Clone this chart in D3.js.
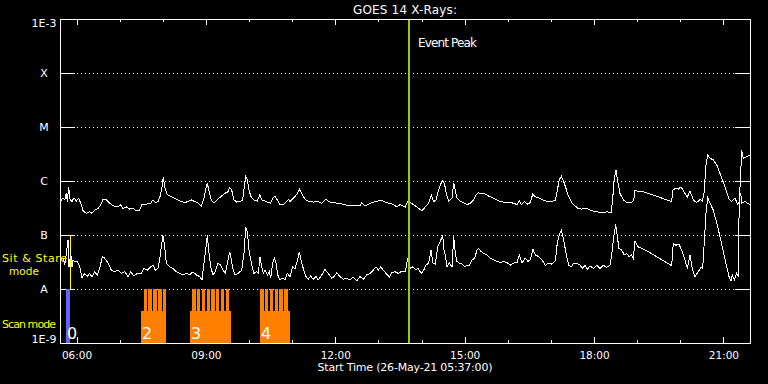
<!DOCTYPE html>
<html lang="en">
    <head>
        <meta charset="utf-8">
        <title>GOES 14 X-Rays</title>
        <script src="https://d3js.org/d3.v7.min.js"></script>
        <style>
            body { margin: 0; background: #000; }
            svg { display: block; }
            text { font-family: "DejaVu Sans", sans-serif; }
        </style>
    </head>
    <body>
        <script type="text/javascript">
            // long channel (1-8 A), [hour UT, log10 flux W/m^2]
            var longChannel = [
                [5.633,-6.38],[5.686,-6.31],[5.726,-6.35],[5.763,-6.22],[5.786,-6.38],[5.818,-6.12],[5.849,-6.34],
                [5.895,-6.38],[5.941,-6.31],[5.995,-6.37],[6.050,-6.32],[6.097,-6.41],[6.150,-6.55],[6.227,-6.60],
                [6.305,-6.57],[6.342,-6.60],[6.421,-6.54],[6.498,-6.51],[6.560,-6.44],[6.614,-6.34],[6.690,-6.35],
                [6.769,-6.41],[6.846,-6.46],[6.961,-6.48],[7.024,-6.44],[7.077,-6.51],[7.154,-6.48],[7.233,-6.52],
                [7.310,-6.51],[7.386,-6.55],[7.465,-6.54],[7.518,-6.43],[7.618,-6.43],[7.720,-6.41],[7.773,-6.35],
                [7.827,-6.40],[7.889,-6.38],[7.935,-6.29],[7.982,-6.11],[8.012,-5.93],[8.044,-6.11],[8.105,-6.25],
                [8.198,-6.29],[8.276,-6.32],[8.392,-6.37],[8.508,-6.40],[8.585,-6.38],[8.661,-6.35],[8.740,-6.38],
                [8.817,-6.41],[8.893,-6.46],[8.956,-6.32],[9.009,-6.11],[9.032,-6.03],[9.065,-6.17],[9.125,-6.35],
                [9.188,-6.41],[9.264,-6.35],[9.343,-6.29],[9.436,-6.23],[9.512,-6.20],[9.552,-6.12],[9.598,-6.17],
                [9.651,-6.35],[9.714,-6.39],[9.790,-6.38],[9.853,-6.35],[9.890,-6.11],[9.923,-5.91],[9.960,-5.97],
                [9.999,-6.17],[10.046,-6.29],[10.115,-6.35],[10.192,-6.37],[10.254,-6.25],[10.294,-6.35],[10.370,-6.37],
                [10.447,-6.40],[10.502,-6.41],[10.549,-6.32],[10.602,-6.28],[10.656,-6.35],[10.718,-6.44],[10.795,-6.44],
                [10.874,-6.38],[10.911,-6.34],[10.950,-6.38],[11.027,-6.32],[11.105,-6.25],[11.166,-6.15],[11.221,-6.23],
                [11.298,-6.34],[11.374,-6.37],[11.490,-6.39],[11.606,-6.38],[11.685,-6.41],[11.778,-6.34],[11.877,-6.39],
                [12.033,-6.41],[12.186,-6.43],[12.302,-6.46],[12.457,-6.46],[12.573,-6.46],[12.612,-6.41],[12.689,-6.46],
                [12.766,-6.43],[12.921,-6.38],[13.076,-6.36],[13.192,-6.40],[13.345,-6.43],[13.424,-6.48],[13.501,-6.44],
                [13.624,-6.48],[13.686,-6.37],[13.762,-6.41],[13.855,-6.46],[13.934,-6.51],[14.011,-6.55],[14.087,-6.48],
                [14.166,-6.41],[14.227,-6.26],[14.282,-6.38],[14.336,-6.35],[14.382,-6.20],[14.435,-6.07],[14.491,-5.99],
                [14.537,-6.07],[14.575,-6.23],[14.630,-6.38],[14.707,-6.32],[14.746,-6.04],[14.783,-6.17],[14.823,-6.32],
                [14.899,-6.38],[14.978,-6.40],[15.054,-6.44],[15.131,-6.41],[15.210,-6.35],[15.263,-6.26],[15.310,-6.22],
                [15.442,-6.23],[15.558,-6.28],[15.673,-6.32],[15.789,-6.37],[15.905,-6.39],[16.021,-6.40],[16.137,-6.41],
                [16.214,-6.44],[16.267,-6.36],[16.314,-6.44],[16.392,-6.38],[16.446,-6.43],[16.522,-6.40],[16.578,-6.24],
                [16.638,-6.29],[16.717,-6.31],[16.794,-6.34],[16.870,-6.37],[16.986,-6.38],[17.102,-6.36],[17.141,-6.20],
                [17.195,-5.98],[17.241,-5.91],[17.297,-6.01],[17.350,-6.14],[17.412,-6.29],[17.489,-6.41],[17.558,-6.46],
                [17.635,-6.51],[17.714,-6.52],[17.830,-6.51],[17.946,-6.55],[18.062,-6.57],[18.178,-6.59],[18.294,-6.57],
                [18.393,-6.59],[18.424,-6.41],[18.470,-5.95],[18.510,-5.80],[18.549,-6.01],[18.602,-6.23],[18.679,-6.35],
                [18.757,-6.40],[18.873,-6.40],[18.920,-6.35],[18.950,-6.17],[19.027,-6.20],[19.143,-6.20],[19.221,-6.22],
                [19.801,-6.38],[19.824,-6.17],[19.878,-6.14],[19.954,-6.15],[20.017,-6.11],[20.110,-6.23],[20.163,-6.30],
                [20.225,-6.18],[20.302,-6.35],[20.381,-6.40],[20.457,-6.34],[20.510,-6.37],[20.550,-6.23],[20.596,-5.70],
                [20.636,-5.52],[20.689,-5.58],[20.766,-5.61],[20.845,-5.70],[20.921,-5.86],[21.037,-6.11],[21.130,-6.34],
                [21.192,-6.38],[21.269,-6.32],[21.332,-6.43],[21.369,-6.38],[21.401,-5.86],[21.425,-5.43],[21.462,-5.58],
                [21.518,-5.56],[21.617,-5.52]
            ];

            // short channel (0.5-4 A), [hour UT, log10 flux W/m^2]
            var shortChannel = [
                [5.633,-7.46],[5.686,-7.43],[5.726,-7.56],[5.763,-7.34],[5.802,-7.09],[5.825,-7.59],[5.865,-7.34],
                [5.895,-7.59],[5.918,-7.46],[5.958,-7.49],[6.018,-7.49],[6.073,-7.59],[6.127,-7.80],[6.189,-7.71],
                [6.250,-7.77],[6.305,-7.71],[6.359,-7.78],[6.421,-7.68],[6.482,-7.74],[6.537,-7.62],[6.598,-7.40],
                [6.653,-7.43],[6.730,-7.52],[6.806,-7.65],[6.885,-7.68],[6.961,-7.65],[7.038,-7.71],[7.117,-7.68],
                [7.193,-7.77],[7.256,-7.68],[7.333,-7.76],[7.409,-7.71],[7.488,-7.72],[7.564,-7.62],[7.641,-7.65],
                [7.720,-7.59],[7.773,-7.56],[7.827,-7.65],[7.889,-7.62],[7.928,-7.46],[7.966,-7.22],[8.005,-7.01],
                [8.044,-7.22],[8.082,-7.52],[8.160,-7.59],[8.237,-7.62],[8.313,-7.68],[8.392,-7.71],[8.469,-7.74],
                [8.545,-7.71],[8.624,-7.74],[8.701,-7.68],[8.777,-7.74],[8.856,-7.77],[8.909,-7.83],[8.956,-7.52],
                [8.995,-7.28],[9.032,-7.00],[9.065,-7.28],[9.111,-7.59],[9.164,-7.74],[9.218,-7.68],[9.280,-7.52],
                [9.343,-7.56],[9.396,-7.65],[9.450,-7.71],[9.512,-7.46],[9.552,-7.31],[9.589,-7.46],[9.621,-7.62],
                [9.675,-7.74],[9.751,-7.71],[9.830,-7.65],[9.883,-7.34],[9.923,-6.86],[9.960,-6.94],[9.999,-7.28],
                [10.062,-7.56],[10.115,-7.71],[10.178,-7.68],[10.215,-7.71],[10.254,-7.41],[10.294,-7.59],[10.331,-7.71],
                [10.370,-7.65],[10.424,-7.74],[10.470,-7.68],[10.502,-7.80],[10.549,-7.52],[10.586,-7.43],[10.626,-7.52],
                [10.665,-7.74],[10.718,-7.83],[10.781,-7.80],[10.834,-7.83],[10.887,-7.71],[10.950,-7.77],[11.013,-7.59],
                [11.066,-7.62],[11.105,-7.52],[11.166,-7.32],[11.205,-7.46],[11.258,-7.62],[11.321,-7.77],[11.374,-7.82],
                [11.430,-7.76],[11.490,-7.82],[11.553,-7.77],[11.606,-7.83],[11.685,-7.74],[11.761,-7.64],[11.838,-7.71],
                [11.917,-7.80],[11.970,-7.77],[12.033,-7.70],[12.110,-7.77],[12.186,-7.82],[12.265,-7.80],[12.341,-7.83],
                [12.418,-7.78],[12.497,-7.85],[12.573,-7.77],[12.650,-7.82],[12.728,-7.74],[12.805,-7.71],[12.882,-7.65],
                [12.944,-7.59],[12.998,-7.65],[13.053,-7.59],[13.114,-7.65],[13.176,-7.71],[13.253,-7.78],[13.308,-7.70],
                [13.385,-7.68],[13.461,-7.71],[13.540,-7.67],[13.624,-7.68],[13.680,-7.43],[13.740,-7.62],[13.795,-7.59],
                [13.855,-7.64],[13.918,-7.62],[13.995,-7.71],[14.050,-7.65],[14.104,-7.56],[14.166,-7.52],[14.220,-7.28],
                [14.266,-7.52],[14.319,-7.54],[14.375,-7.22],[14.435,-7.12],[14.491,-7.00],[14.521,-7.28],[14.551,-7.37],
                [14.591,-7.59],[14.644,-7.52],[14.707,-7.59],[14.746,-7.02],[14.783,-7.34],[14.823,-7.49],[14.876,-7.52],
                [14.938,-7.54],[15.001,-7.59],[15.054,-7.56],[15.108,-7.57],[15.170,-7.46],[15.233,-7.43],[15.286,-7.28],
                [15.326,-7.25],[15.386,-7.31],[15.442,-7.34],[15.518,-7.37],[15.595,-7.43],[15.673,-7.46],[15.750,-7.49],
                [15.827,-7.51],[15.905,-7.49],[15.982,-7.51],[16.058,-7.56],[16.137,-7.52],[16.214,-7.51],[16.267,-7.37],
                [16.330,-7.52],[16.406,-7.43],[16.469,-7.49],[16.522,-7.46],[16.585,-7.26],[16.638,-7.37],[16.717,-7.40],
                [16.794,-7.46],[16.870,-7.56],[16.949,-7.52],[17.025,-7.54],[17.102,-7.48],[17.148,-7.15],[17.195,-7.00],
                [17.241,-6.91],[17.297,-7.09],[17.350,-7.34],[17.412,-7.56],[17.473,-7.59],[17.528,-7.52],[17.605,-7.52],
                [17.675,-7.56],[17.728,-7.62],[17.790,-7.56],[17.853,-7.64],[17.906,-7.57],[17.983,-7.62],[18.062,-7.56],
                [18.139,-7.62],[18.215,-7.56],[18.294,-7.60],[18.370,-7.56],[18.410,-7.37],[18.447,-7.09],[18.502,-6.80],
                [18.540,-7.03],[18.579,-7.25],[18.642,-7.28],[18.702,-7.37],[18.757,-7.34],[18.811,-7.40],[18.873,-7.37],
                [18.911,-7.43],[18.950,-7.12],[19.027,-7.22],[19.106,-7.25],[19.221,-7.29],[19.801,-7.57],[19.838,-7.15],
                [19.894,-7.19],[19.970,-7.17],[20.033,-7.28],[20.110,-7.46],[20.163,-7.62],[20.225,-7.37],[20.279,-7.62],
                [20.341,-7.77],[20.418,-7.68],[20.481,-7.59],[20.520,-7.62],[20.550,-7.22],[20.596,-6.60],[20.636,-6.31],
                [20.689,-6.41],[20.766,-6.54],[20.845,-6.78],[20.921,-7.03],[20.998,-7.31],[21.076,-7.59],[21.130,-7.77],
                [21.176,-7.85],[21.207,-7.74],[21.253,-7.83],[21.308,-7.71],[21.346,-7.77],[21.369,-6.23],[21.401,-6.23],
                [21.425,-6.41],[21.501,-6.38],[21.617,-6.44]
            ];

            var fluxLevels = [1e-9, 1e-8, 1e-7, 1e-6, 1e-5, 1e-4, 1e-3];
            var fluxLabels = ["1E-9", "A", "B", "C", "M", "X", "1E-3"];

            // instrument modes (hours UT)
            var stareBar = [5.756, 5.840];
            var stareLabel = "0";
            var scanBlocks = [[7.495, 8.068], [8.631, 9.582], [10.254, 10.950]];
            var scanLabels = ["2", "3", "4"];
            var scanSpikes = [
                [7.565, 7.627], [7.657, 7.743], [7.773, 7.859], [7.882, 7.989], [8.012, 8.068],
                [8.678, 8.770], [8.793, 8.863], [8.909, 8.986], [9.025, 9.095], [9.125, 9.211],
                [9.234, 9.311], [9.357, 9.420], [9.466, 9.536],
                [10.254, 10.347], [10.370, 10.440], [10.486, 10.556], [10.595, 10.672], [10.702, 10.781], [10.811, 10.904]
            ];
            var eventPeak = 13.709;
            var startHour = 5 + 37 / 60;
            var endHour = 21 + 37 / 60;

            var width = 768, height = 384;
            var plotLeft = 60, plotRight = 750, plotTop = 19, plotBottom = 343;

            function toDate(h) {
                return new Date(Date.UTC(2021, 4, 26) + h * 3600000);
            }

            var svg = d3.select("body")
                .append("svg")
                .attr("width", width)
                .attr("height", height)
                .style("background", "#000");

            var x = d3.scaleUtc().domain([toDate(startHour), toDate(endHour)]).range([plotLeft, plotRight]);
            var y = d3.scaleLog().domain([1e-9, 1e-3]).range([plotBottom, plotTop]);
            var modeY = d3.scaleLinear().domain([0, 2]).range([plotBottom, y(1e-7)]);

            // dotted level lines + inner ticks
            var inner = fluxLevels.slice(1, -1);
            svg.selectAll("line.grid")
                .data(inner)
                .enter()
                .append("line")
                .attr("class", "grid")
                .attr("x1", plotLeft + 17)
                .attr("x2", plotRight - 15)
                .attr("y1", function (d) { return Math.round(y(d)) + 0.5; })
                .attr("y2", function (d) { return Math.round(y(d)) + 0.5; })
                .attr("stroke", "#fff")
                .attr("stroke-dasharray", "1,3")
                .attr("shape-rendering", "crispEdges");

            [[plotLeft, plotLeft + 15], [plotRight - 15, plotRight]].forEach(function (seg) {
                svg.selectAll(null)
                    .data(inner)
                    .enter()
                    .append("line")
                    .attr("x1", seg[0])
                    .attr("x2", seg[1])
                    .attr("y1", function (d) { return Math.round(y(d)) + 0.5; })
                    .attr("y2", function (d) { return Math.round(y(d)) + 0.5; })
                    .attr("stroke", "#fff")
                    .attr("shape-rendering", "crispEdges");
            });

            // time axes
            function timeAxis(g, axis) {
                g.call(axis);
                g.select(".domain").remove();
                g.selectAll("line").attr("stroke", "#fff").attr("shape-rendering", "crispEdges");
                g.selectAll("text").attr("fill", "#fff").attr("font-family", "DejaVu Sans").attr("font-size", 10.5);
            }

            svg.append("g").attr("transform", "translate(0," + plotBottom + ")")
                .call(timeAxis, d3.axisBottom(x).ticks(d3.utcHour.every(1)).tickSize(-3).tickFormat(""));
            svg.append("g").attr("transform", "translate(0," + plotBottom + ")")
                .call(timeAxis, d3.axisBottom(x).ticks(d3.utcHour.every(3)).tickSize(-6).tickPadding(9)
                    .tickFormat(d3.utcFormat("%H:%M")));
            svg.append("g").attr("transform", "translate(0," + plotTop + ")")
                .call(timeAxis, d3.axisTop(x).ticks(d3.utcHour.every(1)).tickSize(-3).tickFormat(""));
            svg.append("g").attr("transform", "translate(0," + plotTop + ")")
                .call(timeAxis, d3.axisTop(x).ticks(d3.utcHour.every(3)).tickSize(-6).tickFormat(""));

            // instrument mode bars
            svg.append("rect")
                .attr("x", x(toDate(stareBar[0])))
                .attr("width", x(toDate(stareBar[1])) - x(toDate(stareBar[0])))
                .attr("y", modeY(1))
                .attr("height", modeY(0) - modeY(1))
                .attr("fill", "#6464ff")
                .attr("shape-rendering", "crispEdges");

            svg.append("line")
                .attr("x1", Math.round(x(toDate(stareBar[1]))) + 0.5)
                .attr("x2", Math.round(x(toDate(stareBar[1]))) + 0.5)
                .attr("y1", modeY(2))
                .attr("y2", modeY(1))
                .attr("stroke", "#ffff00")
                .attr("shape-rendering", "crispEdges");

            svg.selectAll("rect.block")
                .data(scanBlocks)
                .enter()
                .append("rect")
                .attr("class", "block")
                .attr("x", function (d) { return x(toDate(d[0])); })
                .attr("width", function (d) { return x(toDate(d[1])) - x(toDate(d[0])); })
                .attr("y", modeY(0.6))
                .attr("height", modeY(0) - modeY(0.6))
                .attr("fill", "#ff8000")
                .attr("shape-rendering", "crispEdges");

            svg.selectAll("rect.spike")
                .data(scanSpikes)
                .enter()
                .append("rect")
                .attr("class", "spike")
                .attr("x", function (d) { return x(toDate(d[0])); })
                .attr("width", function (d) { return x(toDate(d[1])) - x(toDate(d[0])); })
                .attr("y", modeY(1))
                .attr("height", modeY(0) - modeY(1))
                .attr("fill", "#ff8000")
                .attr("shape-rendering", "crispEdges");

            // flux curves
            var line = d3.line()
                .x(function (d) { return x(toDate(d[0])); })
                .y(function (d) { return y(Math.pow(10, d[1])); });

            [longChannel, shortChannel].forEach(function (series) {
                svg.append("path")
                    .datum(series)
                    .attr("d", line)
                    .attr("fill", "none")
                    .attr("stroke", "#fff")
                    .attr("stroke-width", 1)
                    .attr("shape-rendering", "crispEdges");
            });

            // event peak
            svg.append("line")
                .attr("x1", x(toDate(eventPeak)))
                .attr("x2", x(toDate(eventPeak)))
                .attr("y1", plotTop)
                .attr("y2", plotBottom)
                .attr("stroke", "#99cc00")
                .attr("stroke-width", 2)
                .attr("shape-rendering", "crispEdges");

            svg.append("text")
                .attr("x", x(toDate(eventPeak)) + 9)
                .attr("y", 47)
                .attr("font-size", 12)
                .attr("fill", "#fff")
                .attr("textLength", 59)
                .text("Event Peak");

            // frame
            svg.append("rect")
                .attr("x", plotLeft + 0.5)
                .attr("y", plotTop + 0.5)
                .attr("width", plotRight - plotLeft)
                .attr("height", plotBottom - plotTop)
                .attr("fill", "none")
                .attr("stroke", "#fff")
                .attr("shape-rendering", "crispEdges");

            // flux level labels
            svg.selectAll("text.level")
                .data(fluxLevels)
                .enter()
                .append("text")
                .attr("class", "level")
                .attr("x", 44)
                .attr("y", function (d, i) {
                    if (i === 0) return y(d);
                    if (i === fluxLevels.length - 1) return y(d) + 8;
                    return y(d) + 4;
                })
                .attr("text-anchor", "middle")
                .attr("font-size", 11)
                .attr("fill", "#fff")
                .text(function (d, i) { return fluxLabels[i]; });

            // scan labels
            svg.selectAll("text.scan")
                .data(scanBlocks)
                .enter()
                .append("text")
                .attr("class", "scan")
                .attr("x", function (d) { return x(toDate(d[0])) + 1; })
                .attr("y", plotBottom - 4)
                .attr("font-size", 16)
                .attr("fill", "#fff")
                .text(function (d, i) { return scanLabels[i]; });

            svg.append("text")
                .attr("x", x(toDate(stareBar[0])) + 1)
                .attr("y", plotBottom - 4)
                .attr("font-size", 16)
                .attr("fill", "#fff")
                .text(stareLabel);

            // mode labels
            svg.append("text").attr("x", 2).attr("y", 262).attr("font-size", 11)
                .attr("fill", "#ffff00").attr("textLength", 65).text("Sit & Stare");
            svg.append("text").attr("x", 24).attr("y", 275).attr("font-size", 10.5).attr("text-anchor", "middle")
                .attr("fill", "#ffff00").text("mode");
            svg.append("text").attr("x", 2).attr("y", 328).attr("font-size", 11)
                .attr("fill", "#ffff00").attr("textLength", 54).text("Scan mode");

            // titles
            svg.append("text")
                .attr("x", (plotLeft + plotRight) / 2)
                .attr("y", 14)
                .attr("text-anchor", "middle")
                .attr("font-size", 12)
                .attr("fill", "#fff")
                .attr("textLength", 104)
                .text("GOES 14 X-Rays:");

            svg.append("text")
                .attr("x", (plotLeft + plotRight) / 2)
                .attr("y", 371)
                .attr("text-anchor", "middle")
                .attr("font-size", 11)
                .attr("fill", "#fff")
                .attr("textLength", 175)
                .text("Start Time (26-May-21 05:37:00)");
        </script>
    </body>
</html>
